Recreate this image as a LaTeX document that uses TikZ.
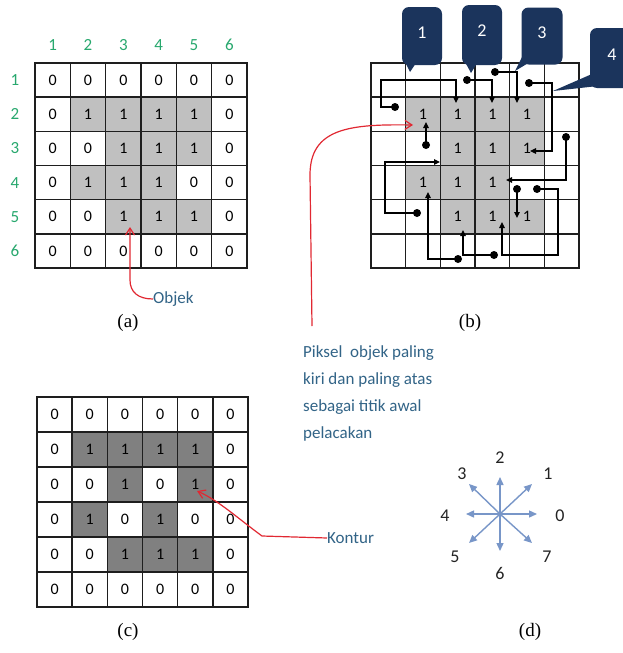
\documentclass[tikz,border=0pt]{standalone}
\usepackage{fontspec}
\setmainfont{Liberation Serif}
\newfontfamily\carl{Carlito}
\usetikzlibrary{arrows.meta}
\definecolor{gridc}{RGB}{30,30,30}
\definecolor{lightg}{RGB}{192,192,192}
\definecolor{darkg}{RGB}{128,128,128}
\definecolor{labgreen}{RGB}{40,168,110}
\definecolor{navyc}{RGB}{27,52,92}
\definecolor{txtblue}{RGB}{50,100,135}
\definecolor{redc}{RGB}{225,40,50}
\definecolor{compc}{RGB}{120,150,200}
\definecolor{compt}{RGB}{35,35,35}
\begin{document}
\begin{tikzpicture}[x=1pt,y=-1pt,
  cell/.style={draw=gridc,line width=1.5pt,inner sep=0pt,font=\carl\fontsize{16}{16}\selectfont},
  cellA/.style={cell,minimum width=35.33pt,minimum height=34.17pt},
  cellB/.style={cell,minimum width=34.67pt,minimum height=34.17pt},
  cellC/.style={cell,minimum width=35.17pt,minimum height=35pt},
  fa0/.style={fill=white}, fa1/.style={fill=lightg},
  fc0/.style={fill=white}, fc1/.style={fill=darkg},
  glabel/.style={text=labgreen,font=\carl\fontsize{17}{17}\selectfont,inner sep=0pt},
  dotn/.style={circle,fill=black,inner sep=0pt,minimum size=8pt},
  flow/.style={draw=black,line width=1.1pt,-{Triangle[length=6pt,width=5.5pt]}},
  redarr/.style={draw=redc,line width=1.2pt,-{Straight Barb[length=7pt,width=9pt]}},
  callout/.style={fill=navyc,rounded corners=7pt,inner sep=0pt,text=white,font=\carl\fontsize{18}{18}\selectfont},
  compar/.style={draw=compc,line width=1.4pt,-{Triangle[length=8pt,width=7pt]}},
  complab/.style={text=compt,font=\carl\fontsize{18}{18}\selectfont,inner sep=0pt},
  caption/.style={font=\fontsize{19}{19}\selectfont,inner sep=0pt},
  note/.style={text=txtblue,font=\carl\fontsize{17}{27}\selectfont,inner sep=0pt}
]
\useasboundingbox (0,0) rectangle (622,653);
\fill[white] (0,0) rectangle (622,653);

% ---------- (a) ----------
\foreach \rowv [count=\r] in {{0,0,0,0,0,0},{0,1,1,1,1,0},{0,0,1,1,1,0},{0,1,1,1,0,0},{0,0,1,1,1,0},{0,0,0,0,0,0}}{
  \foreach \v [count=\c] in \rowv {
    \node[cellA,fa\v] (a-\r-\c) at ({35+(\c-0.5)*35.33},{63+(\r-0.5)*34.17}) {\v};
  }
}
\foreach \c in {1,...,6}{
  \node[glabel] (col-\c) at ({35+(\c-0.5)*35.33},45) {\c};
  \node[glabel] (row-\c) at (15,{63+(\c-0.5)*34.17}) {\c};
}
\node[anchor=west,text=txtblue,font=\carl\fontsize{17}{17}\selectfont,inner sep=0pt] (objek) at (153,299) {Objek};
\coordinate (ta) at (130,227);
\draw[redarr] (objek.west) .. controls (138,299) and (130,292) .. (130,280) -- (ta);
\node[caption] (capa) at (128,323) {(a)};

% ---------- (b) ----------
\foreach \rowv [count=\r] in {{0,0,0,0,0,0},{0,1,1,1,1,0},{0,0,1,1,1,0},{0,1,1,1,0,0},{0,0,1,1,1,0},{0,0,0,0,0,0}}{
  \foreach \v [count=\c] in \rowv {
    \node[cellB,fa\v] (b-\r-\c) at ({371+(\c-0.5)*34.67},{63+(\r-0.5)*34.17}) {\ifnum\v=1 1\fi};
  }
}
% dots
\node[dotn] (d1) at (395,107) {};
\node[dotn] (d2) at (467,80) {};
\node[dotn] (d3) at (495,72) {};
\node[dotn] (d4) at (529,83) {};
\node[dotn] (d5) at (426,145) {};
\node[dotn] (d6) at (566,137) {};
\node[dotn] (d7) at (517,189) {};
\node[dotn] (d8) at (537,189) {};
\node[dotn] (d9) at (494,255) {};
\node[dotn] (d10) at (417,213) {};
\node[dotn] (d11) at (458,259) {};
% ends
\coordinate (e1) at (456,103);
\coordinate (e2) at (492,103);
\coordinate (e3) at (517,103);
\coordinate (e4) at (530,151);
\coordinate (e5) at (426,122);
\coordinate (e6) at (506,180);
\coordinate (e7) at (517,218);
\coordinate (e8) at (502,222);
\coordinate (e9) at (463,230);
\coordinate (e10) at (440,162);
\coordinate (e11) at (428,192);
\draw[flow] (d1.center) -- ++(-14,0) -- ++(0,-27) -| (e1);
\draw[flow] (d2.center) -| (e2);
\draw[flow] (d3.center) -| (e3);
\draw[flow] (d4.center) -- ++(23,0) |- (e4);
\draw[flow] (d5.center) -- (e5);
\draw[flow] (d6.center) |- (e6);
\draw[flow] (d7.center) -- (e7);
\draw[flow] (d8.center) -- ++(21,0) -- ++(0,66) -| (e8);
\draw[flow] (d9.center) -| (e9);
\draw[flow] (d10.center) -- ++(-32,0) |- (e10);
\draw[flow] (d11.center) -| (e11);
% callouts
\node[callout,minimum width=40pt,minimum height=58pt,text depth=6pt] (k1) at (422,36) {1};
\fill[navyc] (404,60) -- (410,72) -- (418,60) -- cycle;
\node[callout,minimum width=40pt,minimum height=60pt,text depth=8pt] (k2) at (482,35) {2};
\fill[navyc] (464,60) -- (471,73) -- (479,60) -- cycle;
\node[callout,minimum width=41pt,minimum height=57pt,text depth=6pt] (k3) at (542,36) {3};
\fill[navyc] (523,55) -- (515,71) -- (530,62) -- cycle;
\node[callout,minimum width=44pt,minimum height=60pt,text depth=6pt] (k4) at (612,58) {4};
\fill[navyc] (592,74) -- (553,91) -- (598,86) -- cycle;
\node[caption] (capb) at (470,323) {(b)};

% ---------- note ----------
\node[note,anchor=north west,align=left] (piksel) at (303,345) {Piksel\ \ objek paling\\kiri dan paling atas\\sebagai titik awal\\pelacakan};
\coordinate (rs) at (312,326);
\coordinate (tb) at (413,125);
\draw[redarr] (rs) -- (310,175) .. controls (310,128) and (350,124) .. (tb);

% ---------- (c) ----------
\foreach \rowv [count=\r] in {{0,0,0,0,0,0},{0,1,1,1,1,0},{0,0,1,0,1,0},{0,1,0,1,0,0},{0,0,1,1,1,0},{0,0,0,0,0,0}}{
  \foreach \v [count=\c] in \rowv {
    \node[cellC,fc\v] (c-\r-\c) at ({37+(\c-0.5)*35.17},{397+(\r-0.5)*35}) {\v};
  }
}
\node[anchor=west,text=txtblue,font=\carl\fontsize{17}{17}\selectfont,inner sep=0pt] (kontur) at (327,538) {Kontur};
\coordinate (tc) at (197,491);
\draw[redarr] (kontur.west) -- (262,536) .. controls (240,520) and (218,500) .. (tc);
\node[caption] (capc) at (128,632) {(c)};

% ---------- (d) ----------
\coordinate (o) at (500,514);
\coordinate (p0) at (537,514);
\coordinate (p1) at (532,484);
\coordinate (p2) at (500,477);
\coordinate (p3) at (469,484);
\coordinate (p4) at (466,514);
\coordinate (p5) at (469,543);
\coordinate (p6) at (500,551);
\coordinate (p7) at (532,543);
\foreach \i in {0,...,7}{ \draw[compar] (o) -- (p\i); }
\node[complab] (l0) at (560,516) {0};
\node[complab] (l1) at (548,474) {1};
\node[complab] (l2) at (500,458) {2};
\node[complab] (l3) at (462,474) {3};
\node[complab] (l4) at (445,516) {4};
\node[complab] (l5) at (455,557) {5};
\node[complab] (l6) at (500,573) {6};
\node[complab] (l7) at (547,557) {7};
\node[caption] (capd) at (530,632) {(d)};
\end{tikzpicture}
\end{document}
